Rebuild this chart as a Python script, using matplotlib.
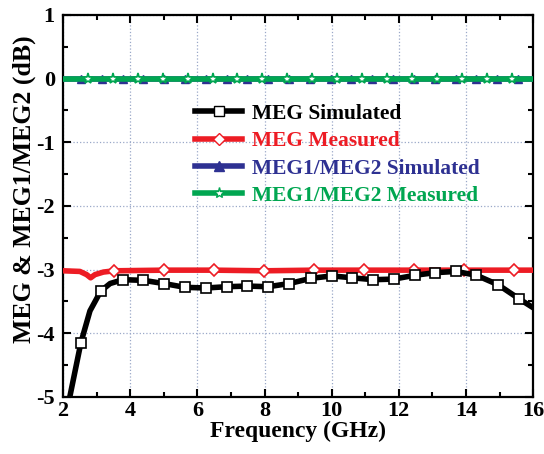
import matplotlib
matplotlib.use("Agg")
import matplotlib.pyplot as plt
import numpy as np
from matplotlib.lines import Line2D

plt.rcParams['font.family'] = ['Liberation Serif', 'DejaVu Serif']
plt.rcParams['font.weight'] = 'bold'
plt.rcParams['axes.unicode_minus'] = False

# MEG Simulated (black)
sim_x = [2.0, 2.2, 2.53, 2.8, 3.12, 3.4, 3.78, 4.39, 5.0, 5.63, 6.26, 6.87, 7.49, 8.11, 8.74,
         9.37, 10.0, 10.61, 11.24, 11.86, 12.48, 13.07, 13.7, 14.31, 14.96, 15.58, 16.0]
sim_y = [-5.7, -5.0, -4.15, -3.65, -3.34, -3.22, -3.16, -3.17, -3.22, -3.28, -3.29, -3.27, -3.26, -3.27, -3.22,
         -3.14, -3.10, -3.13, -3.16, -3.15, -3.09, -3.05, -3.03, -3.09, -3.24, -3.46, -3.60]
sim_marks = [2, 4, 6, 7, 8, 9, 10, 11, 12, 13, 14, 15, 16, 17, 18, 19, 20, 21, 22, 23, 24, 25]

# MEG Measured (red)
mea_x = [2.0, 2.5, 2.7, 2.82, 2.95, 3.2, 3.52, 5.0, 6.49, 7.98, 9.47, 10.96, 12.45, 13.93, 15.42, 16.0]
mea_y = [-3.02, -3.03, -3.08, -3.13, -3.08, -3.04, -3.02, -3.01, -3.01, -3.02, -3.01, -3.01, -3.01, -3.01, -3.01, -3.01]
mea_marks = [6, 7, 8, 9, 10, 11, 12, 13, 14]

# MEG1/MEG2 Simulated (blue) and Measured (green)
flat_x = [2.0, 16.0]
flat_y = [0.0, 0.0]
tri_x = list(np.arange(2.53, 16.0, 0.62))
tri_y = [0.0] * len(tri_x)
star_x = list(np.arange(2.73, 16.0, 0.744))
star_y = [0.0] * len(star_x)

labels = ['MEG Simulated', 'MEG Measured', 'MEG1/MEG2 Simulated', 'MEG1/MEG2 Measured']
colors = ['black', '#ed1c24', '#2e3192', '#00a651']

fig = plt.figure(figsize=(5.44, 4.54), dpi=100)
ax = fig.add_axes([0.116, 0.126, 0.864, 0.841])

ax.plot(flat_x, flat_y, color=colors[2], lw=4, zorder=3)
ax.plot(tri_x, tri_y, ls='none', marker='^', ms=6, color=colors[2], zorder=4)
ax.plot(flat_x, flat_y, color=colors[3], lw=4, zorder=5)
ax.plot(star_x, star_y, ls='none', marker='*', ms=8, mfc='white', mec=colors[3], mew=1.2, zorder=6)

ax.plot(mea_x, mea_y, color=colors[1], lw=4, marker='D', ms=6.5, mfc='white', mec=colors[1], mew=1.2,
        markevery=mea_marks, zorder=4)
ax.plot(sim_x, sim_y, color=colors[0], lw=4, marker='s', ms=6.5, mfc='white', mec=colors[0], mew=1.2,
        markevery=sim_marks, zorder=5)

handles = [
    Line2D([], [], color=colors[0], lw=4, marker='s', ms=6.5, mfc='white', mec=colors[0]),
    Line2D([], [], color=colors[1], lw=4, marker='D', ms=6.5, mfc='white', mec=colors[1]),
    Line2D([], [], color=colors[2], lw=4, marker='^', ms=6.5, mfc=colors[2], mec=colors[2]),
    Line2D([], [], color=colors[3], lw=4, marker='*', ms=8, mfc='white', mec=colors[3]),
]
leg = ax.legend(handles, labels, loc='upper left', bbox_to_anchor=(0.262, 0.79), frameon=False,
                prop={'family': 'Liberation Serif', 'weight': 'bold', 'size': 15.5},
                handlelength=2.2, handletextpad=0.45, labelspacing=0.34, borderaxespad=0)
for t, c in zip(leg.get_texts(), colors):
    t.set_color(c)

ax.set_xlim(2, 16)
ax.set_ylim(-5, 1)
ax.set_xticks(np.arange(2, 17, 2))
ax.set_xticks(np.arange(3, 16, 2), minor=True)
ax.set_yticks(np.arange(-5, 2, 1))
ax.set_yticks(np.arange(-4.5, 1, 1), minor=True)
ax.grid(True, which='major', ls=':', color='#9aa8c8', lw=0.9)
ax.tick_params(which='both', direction='in', top=True, right=True, width=1.5)
ax.tick_params(which='major', length=6, labelsize=16)
ax.tick_params(axis='y', which='major', pad=6)
ax.tick_params(axis='x', which='major', pad=3)
ax.tick_params(which='minor', length=3.5)
for lab in ax.get_xticklabels() + ax.get_yticklabels():
    lab.set_fontweight('bold')
for s in ax.spines.values():
    s.set_linewidth(1.6)

ax.set_xlabel('Frequency (GHz)', fontsize=17, fontweight='bold', labelpad=0)
ax.set_ylabel('MEG & MEG1/MEG2 (dB)', fontsize=18.5, fontweight='bold')
ax.yaxis.set_label_coords(-0.058, 0.545)

fig.savefig('out.png', dpi=100)
